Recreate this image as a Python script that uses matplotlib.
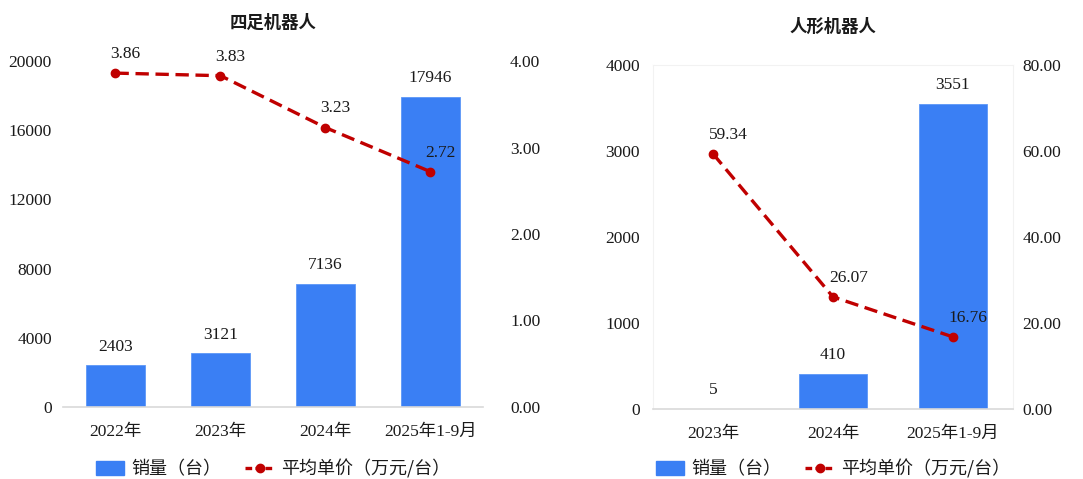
import matplotlib
matplotlib.use("Agg")
import matplotlib.pyplot as plt
from matplotlib.lines import Line2D
from matplotlib.patches import Patch

# ---- data ----
quad_categories = ["2022年", "2023年", "2024年", "2025年1-9月"]
quad_sales = [2403, 3121, 7136, 17946]
quad_price = [3.86, 3.83, 3.23, 2.72]
quad_yticks = [0, 4000, 8000, 12000, 16000, 20000]
quad_y2ticks = [0.0, 1.0, 2.0, 3.0, 4.0]

hum_categories = ["2023年", "2024年", "2025年1-9月"]
hum_sales = [5, 410, 3551]
hum_price = [59.34, 26.07, 16.76]
hum_yticks = [0, 1000, 2000, 3000, 4000]
hum_y2ticks = [0.0, 20.0, 40.0, 60.0, 80.0]

titles = ["四足机器人", "人形机器人"]
legend_labels = ["销量（台）", "平均单价（万元/台）"]

BAR = "#3A7FF4"
LINE = "#C00000"
TXT = "#1A1A1A"
FONT = ["Liberation Serif", "Noto Sans CJK SC", "DejaVu Sans"]
plt.rcParams['font.family'] = FONT

W, H = 1083, 479
fig = plt.figure(figsize=(W / 100, H / 100), dpi=100)
DASH = (0, (4, 2))


def make(ax_px, cats, sales, price, yt, y2t, title, bw, line_dx, frame, lpad, rpad):
    x0, x1, ytop, ybot = ax_px
    ax = fig.add_axes([x0 / W, 1 - ybot / H, (x1 - x0) / W, (ybot - ytop) / H])
    ax2 = ax.twinx()
    xs = list(range(len(cats)))
    ax.bar(xs, sales, width=bw, color=BAR, edgecolor="#5C97F7", linewidth=0.6, zorder=2)
    ax.set_xlim(-0.5, len(cats) - 0.5)
    ax.set_ylim(yt[0], yt[-1])
    ax.set_yticks(yt)
    ax.set_yticklabels([str(v) for v in yt])
    ax.set_xticks(xs)
    ax.set_xticklabels(cats)
    ax.tick_params(axis='both', length=0, labelsize=12.5, colors=TXT)
    ax.tick_params(axis='y', pad=lpad)
    ax.tick_params(axis='x', pad=12)
    for s in ["top", "left", "right"]:
        ax.spines[s].set_visible(frame)
        ax.spines[s].set_color("#F2F2F2")
    ax.spines["bottom"].set_color("#D9D9D9")
    ax.spines["bottom"].set_linewidth(1.2)
    for i, v in enumerate(sales):
        ax.annotate(str(v), (i, v), xytext=(0, 7.5), textcoords="offset points",
                    ha="center", va="bottom", fontsize=12.5, color=TXT)

    ax2.plot(xs, price, color=LINE, linestyle=DASH, linewidth=2.4,
             marker="o", markersize=6, zorder=3)
    ax2.set_ylim(y2t[0], y2t[-1])
    ax2.set_yticks(y2t)
    ax2.set_yticklabels([f"{v:.2f}" for v in y2t])
    ax2.tick_params(axis='y', length=0, labelsize=12.5, colors=TXT, pad=rpad)
    for s in ["top", "left", "right", "bottom"]:
        ax2.spines[s].set_visible(False)
    for i, v in enumerate(price):
        ax2.annotate(f"{v:.2f}", (i, v), xytext=(line_dx, 8), textcoords="offset points",
                     ha="center", va="bottom", fontsize=12.5, color=TXT)
    ax.set_zorder(1)
    ax2.set_zorder(2)
    ax.patch.set_visible(False)

    fig.text(((x0 + x1) / 2) / W, 1 - (ytop - 38) / H, title, ha="center", va="center",
             fontsize=12.5, fontweight="bold", color=TXT, family=["Noto Sans CJK SC"])
    handles = [Patch(facecolor=BAR, edgecolor=BAR),
               Line2D([0], [0], color=LINE, linestyle=(0, (2, 1)), linewidth=2.4,
                      marker="o", markersize=6)]
    fig.legend(handles, legend_labels, loc="center",
               bbox_to_anchor=(((x0 + x1) / 2) / W, 1 - 469 / H), ncol=2, frameon=False,
               prop={'family': ["Noto Sans CJK SC"], 'size': 13}, handlelength=1.6,
               handleheight=0.8, columnspacing=1.3, handletextpad=0.4, labelcolor=TXT)
    return ax, ax2


make((63, 483, 61, 407), quad_categories, quad_sales, quad_price, quad_yticks,
     quad_y2ticks, titles[0], 0.56, 7, False, 8, 19.5)
make((653, 1013, 65, 409), hum_categories, hum_sales, hum_price, hum_yticks,
     hum_y2ticks, titles[1], 0.57, 11, True, 9.5, 7)

fig.savefig("out.png", dpi=100, facecolor="white")
